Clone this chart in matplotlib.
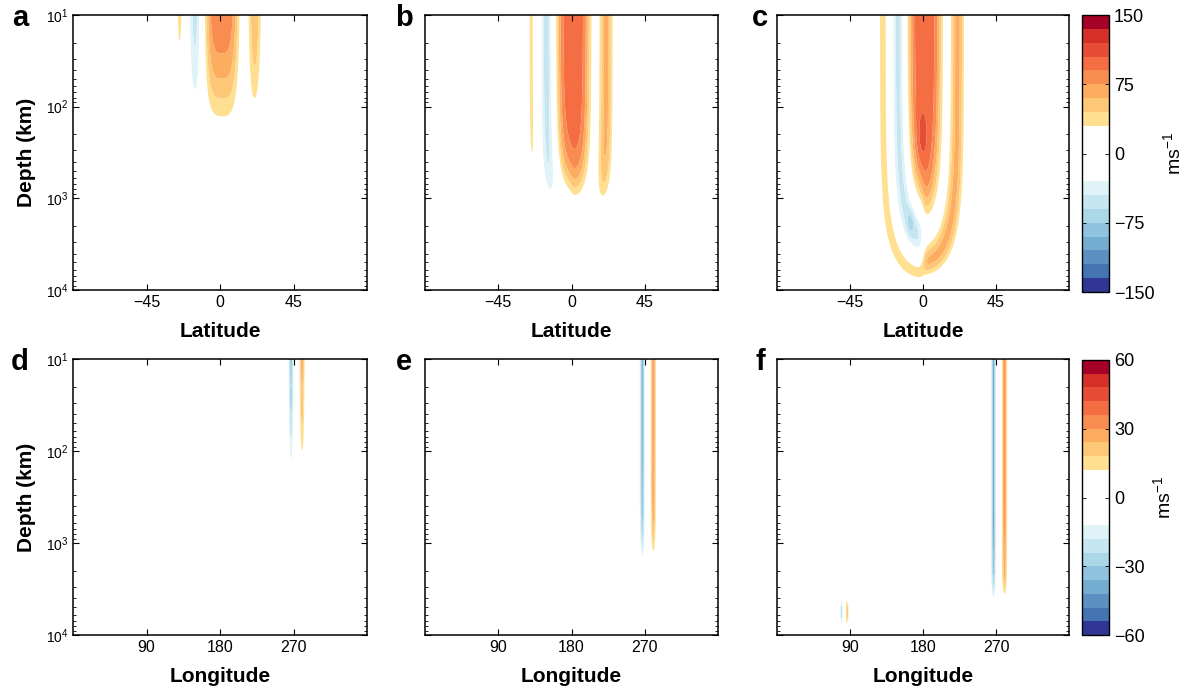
import numpy as np
import matplotlib
matplotlib.use("Agg")
import matplotlib.pyplot as plt
from matplotlib.ticker import LogLocator, NullFormatter, LogFormatterMathtext

plt.rcParams['font.family'] = ['Liberation Sans', 'DejaVu Sans']
plt.rcParams['mathtext.fontset'] = 'custom'
plt.rcParams['mathtext.rm'] = 'Liberation Sans'
plt.rcParams['mathtext.bf'] = 'Liberation Sans:bold'

R_PLANET = 71492.0  # km

# cloud-level zonal jets: centre latitude, half width, shape exponent
jet_lat = [-24.6, -15.4, 1.0, 21.3]
jet_width = [3.9, 4.5, 10.7, 4.5]
jet_shape = [2, 2, 4, 2]
# peak speed of each jet (m/s) in runs a, b, c
jet_speed_a = [38.0, -58.0, 100.0, 66.0]
jet_speed_b = [33.0, -52.0, 100.0, 66.0]
jet_speed_c = [38.0, -50.0, 100.0, 66.0]

# radial decay of the zonal flow for runs a, b, c
decay_depth = [105.0, 1040.0, 30000.0]
decay_power = [0.9, 2.19, 2.0]

# deep features that only show up in run c
deep_lat = [-0.8, -7.5]
deep_logd = [2.35, 3.25]
deep_speed = [16.0, -20.0]
deep_wlat = [3.5, 2.5]
deep_wlog = [0.30, 0.15]
deep_gain = [0.0, 0.0, 1.0]

# vortex flow along longitude (runs d, e, f)
vort_lon = [267.0, 280.5]
vort_width = [3.2, 3.4]
vort_speed = [-38.0, 31.0]
vort_decay_depth = [105.0, 1250.0, 3650.0]
vort_decay_power = [0.9, 2.0, 3.0]

# smaller vortex deep down, only in run f
oval_lon = [79.5, 86.5]
oval_width = [2.2, 2.0]
oval_speed = [-24.0, 24.0]
oval_logd = 3.75
oval_wlog = 0.14
oval_gain = [0.0, 0.0, 1.0]

levels_u = np.arange(-150, 151, 15)
levels_v = np.arange(-60, 61, 6)
cb_ticks_u = [-150, -75, 0, 75, 150]
cb_ticks_v = [-60, -30, 0, 30, 60]

# diverging palette, white around zero
cmap = plt.get_cmap('RdYlBu_r')
blue_pos = [0.0, 0.1, 0.15, 0.2, 0.25, 0.3, 0.35, 0.4]
red_pos = [0.6, 0.65, 0.7, 0.75, 0.8, 0.85, 0.9, 1.0]
colors = [cmap(p) for p in blue_pos] + ['white'] * 4 + [cmap(p) for p in red_pos]


def surface_wind(lat0, speeds):
    u = np.zeros_like(lat0)
    for c, w, a, p in zip(jet_lat, jet_width, speeds, jet_shape):
        u += a * np.exp(-np.abs((lat0 - c) / w) ** p)
    return u


depth = np.logspace(1, 4, 450)
lat = np.linspace(-90, 90, 721)
LAT, DEP = np.meshgrid(lat, depth)
# project along cylinders parallel to the spin axis, blending the two
# hemispheres smoothly across the equator
s = (R_PLANET - DEP) / R_PLANET * np.cos(np.radians(LAT))
LAT0 = np.degrees(np.arccos(np.clip(s, -1, 1)))
north = 0.5 * (1 + np.tanh(LAT / 2.0))

lon = np.linspace(0, 360, 1441)
LON, DEP2 = np.meshgrid(lon, depth)


def zonal_field(i, speeds):
    u0 = north * surface_wind(LAT0, speeds) + (1 - north) * surface_wind(-LAT0, speeds)
    u = u0 * np.exp(-(DEP / decay_depth[i]) ** decay_power[i])
    for c, ld, a, wl, wd in zip(deep_lat, deep_logd, deep_speed, deep_wlat, deep_wlog):
        u += deep_gain[i] * a * np.exp(-((LAT - c) / wl) ** 2 - ((np.log10(DEP) - ld) / wd) ** 2)
    return u


def vortex_field(i):
    v = np.zeros_like(LON)
    g = np.exp(-(DEP2 / vort_decay_depth[i]) ** vort_decay_power[i])
    for c, w, a in zip(vort_lon, vort_width, vort_speed):
        v += a * np.exp(-((LON - c) / w) ** 2) * g
    env = np.exp(-((np.log10(DEP2) - oval_logd) / oval_wlog) ** 2)
    for c, w, a in zip(oval_lon, oval_width, oval_speed):
        v += oval_gain[i] * a * np.exp(-((LON - c) / w) ** 2) * env
    return v


W, H = 1184, 694
fig = plt.figure(figsize=(W / 100, H / 100), dpi=100)


def px_axes(x0, y0, x1, y1):
    return fig.add_axes([x0 / W, 1 - y1 / H, (x1 - x0) / W, (y1 - y0) / H])


cols = [(73, 367), (425, 718), (777, 1069)]
rows = [(15, 290), (359, 635)]
letters = [['a', 'b', 'c'], ['d', 'e', 'f']]
letter_x = [20, 404, 760]
run_speeds = [jet_speed_a, jet_speed_b, jet_speed_c]


def style(ax, first):
    ax.set_yscale('log')
    ax.set_ylim(1e4, 10)
    ax.yaxis.set_major_locator(LogLocator(base=10, numticks=10))
    ax.yaxis.set_minor_locator(LogLocator(base=10, subs=np.arange(2, 10), numticks=20))
    ax.yaxis.set_minor_formatter(NullFormatter())
    if first:
        ax.yaxis.set_major_formatter(LogFormatterMathtext())
        ax.set_ylabel('Depth (km)', fontsize=15, fontweight='bold', labelpad=7)
    else:
        ax.set_yticklabels([])
    ax.tick_params(which='both', direction='in', top=True, right=True)
    ax.tick_params(axis='x', labelsize=11.5)
    ax.tick_params(axis='y', labelsize=10)
    ax.tick_params(which='major', length=4, width=0.8)
    ax.tick_params(which='minor', length=2, width=0.6)
    for sp in ax.spines.values():
        sp.set_linewidth(1.1)


for j in range(3):
    ax = px_axes(cols[j][0], rows[0][0], cols[j][1], rows[0][1])
    cs_u = ax.contourf(lat, depth, zonal_field(j, run_speeds[j]), levels=levels_u,
                       colors=colors, antialiased=True)
    ax.set_xlim(-90, 90)
    ax.set_xticks([-45, 0, 45])
    style(ax, j == 0)
    ax.set_xlabel('Latitude', fontsize=15, fontweight='bold', labelpad=9)
    fig.text(letter_x[j] / W, 1 - 18 / H, letters[0][j], fontsize=21, fontweight='bold',
             ha='center', va='center')

    ax = px_axes(cols[j][0], rows[1][0], cols[j][1], rows[1][1])
    cs_v = ax.contourf(lon, depth, vortex_field(j), levels=levels_v, colors=colors,
                       antialiased=True)
    ax.set_xlim(0, 360)
    ax.set_xticks([90, 180, 270])
    style(ax, j == 0)
    ax.set_xlabel('Longitude', fontsize=15, fontweight='bold', labelpad=9)
    fig.text(letter_x[j] / W, 1 - 362 / H, letters[1][j], fontsize=21, fontweight='bold',
             ha='center', va='center')

for cs, (y0, y1), ticks in [(cs_u, (15, 292), cb_ticks_u), (cs_v, (360, 635), cb_ticks_v)]:
    cax = px_axes(1082, y0, 1109, y1)
    cb = fig.colorbar(cs, cax=cax, ticks=ticks)
    cb.outline.set_linewidth(1.0)
    cax.tick_params(direction='in', length=3, width=0.6, left=True, right=True, labelsize=13)
    cb.set_label('ms$^{-1}$', fontsize=14, labelpad=6)

fig.savefig('out.png', dpi=100)
